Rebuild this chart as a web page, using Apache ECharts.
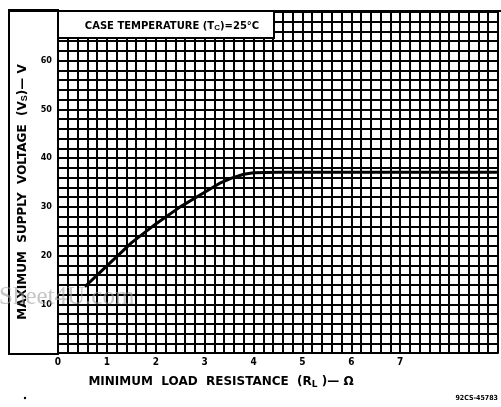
<!DOCTYPE html>
<html>
<head>
<meta charset="utf-8">
<script src="https://cdn.jsdelivr.net/npm/echarts@6/dist/echarts.min.js"></script>
<style>
  html, body { margin: 0; padding: 0; background: #fff; }
  #main { width: 501px; height: 407px; }
</style>
</head>
<body>
<div id="main"></div>
<script>
// curve: load resistance (ohm) vs max supply voltage (V)
var resistance = [0.55, 0.8, 1.0, 1.5, 2.0, 2.5, 3.0, 3.3, 3.55, 3.8, 4.0, 4.5, 5, 6, 7, 8, 9];
var voltage    = [13.6, 16.0, 17.9, 22.6, 26.5, 30.0, 33.0, 34.8, 35.9, 36.7, 37.0, 37.1, 37.1, 37.1, 37.1, 37.1, 37.1];
var xTickLabels = ['0', '1', '2', '3', '4', '5', '6', '7'];
var yTickLabels = ['10', '20', '30', '40', '50', '60'];

var curve = resistance.map(function (r, i) { return [r, voltage[i]]; });

var chart = echarts.init(document.getElementById('main'));

chart.setOption({
    animation: false,
    backgroundColor: '#fff',
    grid: { left: 58, right: -2, top: 12, bottom: 54 },
    xAxis: {
        type: 'value',
        min: 0, max: 9, interval: 1,
        axisLine: { show: true, lineStyle: { color: '#000', width: 2 } },
        axisTick: { show: false },
        splitLine: { lineStyle: { color: '#000', width: 2 } },
        minorTick: { show: false, splitNumber: 5 },
        minorSplitLine: { show: true, lineStyle: { color: '#000', width: 2 } },
        axisLabel: {
            color: '#000', fontWeight: 'bold', fontSize: 10, margin: 4,
            fontFamily: '"DejaVu Sans Condensed", sans-serif',
            formatter: function (v) {
                return xTickLabels.indexOf(String(v)) >= 0 ? String(v) : '';
            }
        },
        name: 'MINIMUM  LOAD  RESISTANCE  (R{s|L} )— Ω',
        nameLocation: 'middle',
        nameGap: 22,
        nameTextStyle: {
            color: '#000', fontWeight: 'bold', fontSize: 12,
            fontFamily: '"DejaVu Sans", sans-serif',
            padding: [0, 0, 0, -114],
            rich: { s: { fontSize: 9, fontWeight: 'bold', padding: [5, 0, 0, 0] } }
        }
    },
    yAxis: {
        type: 'value',
        min: 0, max: 70, interval: 10,
        axisLine: { show: true, lineStyle: { color: '#000', width: 2 } },
        axisTick: { show: false },
        splitLine: { lineStyle: { color: '#000', width: 2 } },
        minorTick: { show: false, splitNumber: 5 },
        minorSplitLine: { show: true, lineStyle: { color: '#000', width: 2 } },
        axisLabel: {
            color: '#000', fontWeight: 'bold', fontSize: 9, margin: 6,
            fontFamily: '"DejaVu Sans Condensed", sans-serif',
            formatter: function (v) {
                return yTickLabels.indexOf(String(v)) >= 0 ? String(v) : '';
            }
        }
    },
    graphic: [
        // left frame holding the y-axis title
        { type: 'rect', shape: { x: 9, y: 10, width: 49, height: 344 },
          style: { fill: 'none', stroke: '#000', lineWidth: 2 }, z: 50 },
        { type: 'line', shape: { x1: 9, y1: 11, x2: 501, y2: 11 },
          style: { stroke: '#000', lineWidth: 2 }, z: 50 },
        { type: 'text', x: 23, y: 192, rotation: Math.PI / 2, z: 50,
          style: { text: 'MAXIMUM  SUPPLY  VOLTAGE  (V{s|S})— V', fill: '#000',
                   font: 'bold 12px "DejaVu Sans", sans-serif', align: 'center', verticalAlign: 'middle',
                   rich: { s: { fontSize: 9, fontWeight: 'bold', fill: '#000', padding: [4, 0, 0, 0] } } } },
        // title box
        { type: 'rect', shape: { x: 58, y: 11, width: 216, height: 27 },
          style: { fill: '#fff', stroke: '#000', lineWidth: 2 }, z: 50 },
        { type: 'text', x: 172, y: 26, z: 51,
          style: { text: 'CASE TEMPERATURE (T{s|C})=25°C', fill: '#000',
                   font: 'bold 10px "DejaVu Sans", sans-serif', align: 'center', verticalAlign: 'middle',
                   rich: { s: { fontSize: 8, fontWeight: 'bold', fill: '#000', padding: [4, 0, 0, 0] } } } },
        // footer code
        { type: 'text', x: 498, y: 398, z: 50,
          style: { text: '92CS-45783', fill: '#000', font: 'bold 7px "DejaVu Sans Condensed", sans-serif',
                   align: 'right', verticalAlign: 'middle' } },
        { type: 'circle', shape: { cx: 25, cy: 398, r: 1.2 }, style: { fill: '#000' }, z: 50 },
        // watermark
        { type: 'text', x: -1, y: 297, z: 60,
          style: { text: 'Sheet4U.com', fill: 'rgba(160,160,160,0.6)',
                   font: '25px "Liberation Serif", serif', verticalAlign: 'middle' } }
    ],
    series: [{
        type: 'line',
        data: curve,
        showSymbol: false,
        smooth: false,
        lineStyle: { color: '#000', width: 3 },
        z: 10
    }]
});
</script>
</body>
</html>
